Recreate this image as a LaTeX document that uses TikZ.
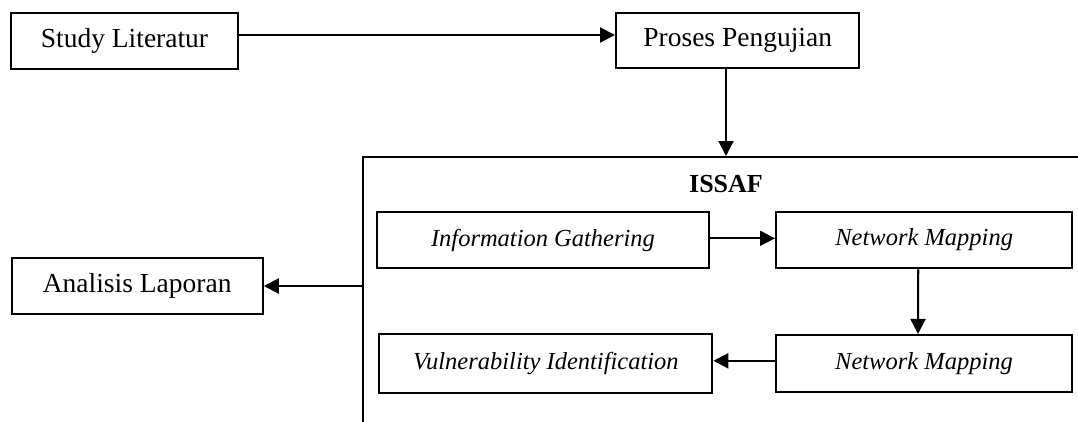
\documentclass[tikz,border=0pt]{standalone}
\usepackage{fontspec}
\setmainfont{Liberation Serif}
\usetikzlibrary{arrows.meta}
\begin{document}
\begin{tikzpicture}[x=1pt,y=-1pt,
  box/.style={draw, line width=2.1pt, rectangle, inner sep=0pt, anchor=center},
  rtext/.style={font=\fontsize{27.5}{33}\selectfont},
  itext/.style={font=\fontsize{24.5}{29}\selectfont\itshape},
  conn/.style={line width=2.1pt, -{Triangle[length=15pt,width=15pt]}}]
\useasboundingbox (0,0) rectangle (1078,421);
\fill[white] (0,0) rectangle (1078,421);
% frame of ISSAF (extends beyond the page on the right and bottom)
\node[box, minimum width=760pt, minimum height=300pt, anchor=north west] (frame) at (361.7,156) {};
\node[font=\fontsize{26}{31}\selectfont\bfseries] (issaflabel) at (726,184) {ISSAF};
% boxes
\node[box, rtext, minimum width=226.4pt, minimum height=56.3pt] (study) at (124.5,41) {Study Literatur};
\node[box, rtext, minimum width=243.3pt, minimum height=55.6pt] (proses) at (737.7,40.5) {Proses Pengujian};
\node[box, rtext, minimum width=251pt, minimum height=56pt] (analisis) at (137.2,286) {Analisis Laporan};
\node[box, itext, minimum width=332.6pt, minimum height=56pt] (ig) at (543,240.3) {Information Gathering};
\node[box, itext, minimum width=296.3pt, minimum height=56.6pt] (nm1) at (924.2,240) {Network Mapping};
\node[box, itext, minimum width=296pt, minimum height=56.7pt] (nm2) at (924,363.3) {Network Mapping};
\node[box, itext, minimum width=333pt, minimum height=59.3pt] (vuln) at (545.8,363.7) {Vulnerability Identification};
% connectors
\draw[conn] ([yshift=6pt]study.east) -- ([yshift=6pt]study.east -| proses.west);
\draw[conn] ([xshift=-11.7pt]proses.south) -- ([xshift=-11.7pt]proses.south |- frame.north);
\draw[conn] (frame.west |- analisis.east) -- (analisis.east);
\draw[conn] ([yshift=2pt]ig.east) -- ([yshift=2pt]ig.east -| nm1.west);
\draw[conn] ([xshift=-6pt]nm1.south) -- ([xshift=-6pt]nm2.north);
\draw[conn] ([yshift=2.5pt]nm2.west) -- ([yshift=2.5pt]nm2.west -| vuln.east);
\end{tikzpicture}
\end{document}
